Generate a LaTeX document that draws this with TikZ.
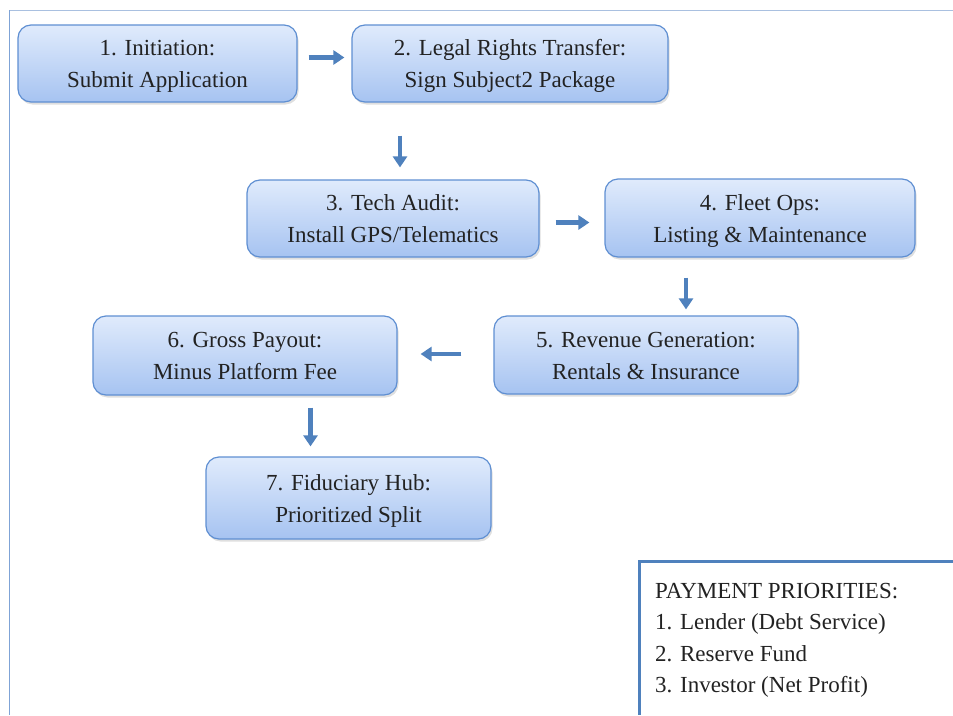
\documentclass[tikz,border=0pt]{standalone}
\usepackage{fontspec}
\setmainfont{Liberation Serif}
\usetikzlibrary{arrows.meta,shadows,calc}
\definecolor{boxtop}{HTML}{E0EBFC}
\definecolor{boxbot}{HTML}{A6C3F1}
\definecolor{boxline}{HTML}{5F8FD2}
\definecolor{arrowblue}{HTML}{4F81BD}
\definecolor{frametop}{HTML}{A9C0E0}
\definecolor{frameleft}{HTML}{7FA3D6}
\definecolor{txt}{HTML}{222222}
\newcommand{\twoline}[2]{\raisebox{-8pt}[0pt][0pt]{\begin{tabular}{@{}c@{}}#1\\#2\end{tabular}}}
\begin{document}
\begin{tikzpicture}[x=1pt,y=-1pt,
  stepbox/.style={draw=boxline, line width=1.2pt, rounded corners=13pt,
    top color=boxtop, bottom color=boxbot, text=txt, align=center,
    font=\fontsize{23}{32}\selectfont,
    drop shadow={opacity=0.25, shadow xshift=1.5pt, shadow yshift=-2.5pt}},
  flow/.style={draw=arrowblue, line width=4.2pt,
    -{Triangle[length=11pt,width=14pt]}}
]
\useasboundingbox (0,0) rectangle (953,715);
% outer frame
\draw[frametop, line width=1.5pt] (10,10.5) -- (953,10.5);
\draw[frameleft, line width=1.5pt] (9.5,10) -- (9.5,715);

\node[stepbox, minimum width=279pt, minimum height=77pt] (n1) at (157.5,63.5) {\twoline{1. Initiation:}{Submit Application}};
\node[stepbox, minimum width=316pt, minimum height=77pt] (n2) at (510,63.5) {\twoline{2. Legal Rights Transfer:}{Sign Subject2 Package}};
\node[stepbox, minimum width=292pt, minimum height=77pt] (n3) at (393,218.5) {\twoline{3. Tech Audit:}{Install GPS/Telematics}};
\node[stepbox, minimum width=310pt, minimum height=78pt] (n4) at (760,218) {\twoline{4. Fleet Ops:}{Listing \& Maintenance}};
\node[stepbox, minimum width=304pt, minimum height=78pt] (n5) at (646,355) {\twoline{5. Revenue Generation:}{Rentals \& Insurance}};
\node[stepbox, minimum width=304pt, minimum height=79pt] (n6) at (245,355.5) {\twoline{6. Gross Payout:}{Minus Platform Fee}};
\node[stepbox, minimum width=285pt, minimum height=82pt] (n7) at (348.5,498) {\twoline{7. Fiduciary Hub:}{Prioritized Split}};

% connectors
\draw[flow, shorten <=11pt, shorten >=7pt] ([yshift=6pt]n1.east) -- ([yshift=6pt]n1.east -| n2.west);
\draw[flow, shorten <=33pt, shorten >=12pt] ([xshift=7pt]n2.south -| n3.north) -- ([xshift=7pt]n3.north);
\draw[flow, shorten <=16pt, shorten >=15pt] ([yshift=-4pt]n3.east) -- ([yshift=-4pt]n3.east -| n4.west);
\draw[flow, shorten <=20pt, shorten >=6pt] ([xshift=40pt]n5.north |- n4.south) -- ([xshift=40pt]n5.north);
\draw[flow, shorten <=32pt, shorten >=23pt] ([yshift=1pt]n5.west) -- ([yshift=1pt]n5.west -| n6.east);
\draw[flow, shorten <=12pt, shorten >=10pt] ([xshift=-38pt]n7.north |- n6.south) -- ([xshift=-38pt]n7.north);

% payment priorities box
\draw[arrowblue, line width=3pt] (953,561) -- (639,561) -- (639,715);
\node[anchor=north west, align=left, text=txt, inner sep=0pt,
  font=\fontsize{23}{31.3}\selectfont] (pay) at (655,583)
  {PAYMENT PRIORITIES:\\1. Lender (Debt Service)\\2. Reserve Fund\\3. Investor (Net Profit)};
\end{tikzpicture}
\end{document}
